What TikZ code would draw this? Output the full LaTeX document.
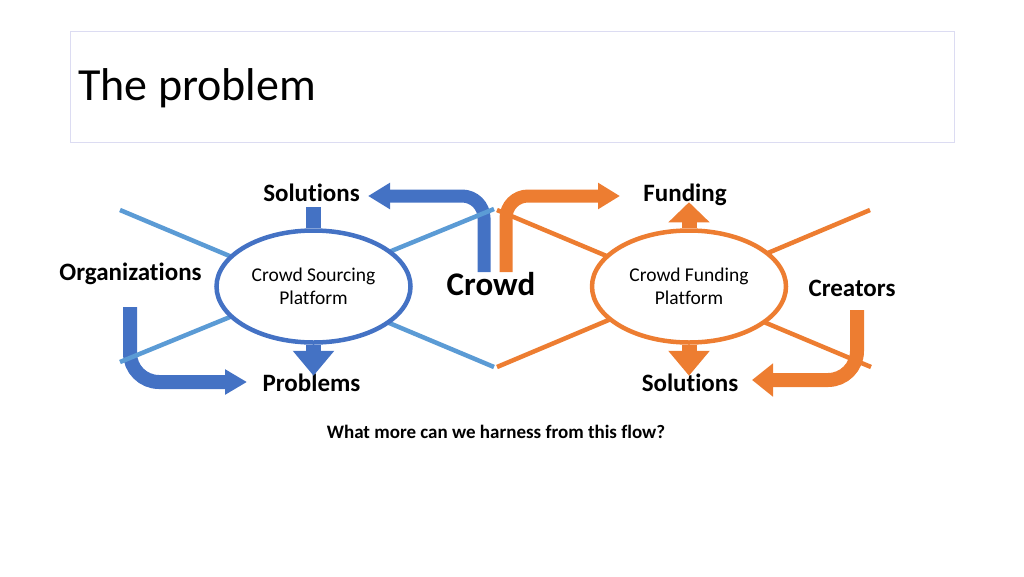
\documentclass[tikz,border=0pt]{standalone}
\usepackage{fontspec}
\setmainfont{Carlito}[Ligatures=NoCommon]
\usetikzlibrary{arrows.meta,shapes.geometric}
\definecolor{dblue}{HTML}{4472C4}
\definecolor{lblue}{HTML}{5B9BD5}
\definecolor{orng}{HTML}{ED7D31}
\definecolor{boxc}{HTML}{DCDCF2}
\begin{document}
\begin{tikzpicture}[x=1pt,y=-1pt,
  lab/.style={font=\fontsize{25}{30}\selectfont\bfseries, inner sep=0, anchor=base},
  plat/.style={ellipse, line width=4.5pt, fill=white, minimum width=194pt, minimum height=112pt, inner sep=0, align=center, font=\fontsize{19.5}{22.5}\selectfont},
  spoke/.style={line width=4.5pt},
  bendarrow/.style={line width=13pt, rounded corners=22pt, -{Triangle[length=22pt,width=25pt]}},
  bigbend/.style={line width=14pt, rounded corners=29pt},
  blockarrow/.style={line width=15pt},
]
\useasboundingbox (0,0) rectangle (1024,576);
% title
\node[draw=boxc, line width=1pt, minimum width=884pt, minimum height=111pt, anchor=north west, inner sep=0] (tbox) at (70,31) {};
\node[anchor=base west, inner sep=0, font=\fontsize{46}{55}\selectfont] (title) at (78,100) {The problem};

% coordinates
\coordinate (b1) at (120,210); \coordinate (b2) at (494,367);
\coordinate (b3) at (120,362); \coordinate (b4) at (494,209);
\coordinate (o1) at (497,210); \coordinate (o2) at (871,367);
\coordinate (o3) at (497,367); \coordinate (o4) at (870,210);
\coordinate (crb) at (484,272); \coordinate (cro) at (506,272);
\coordinate (orgs) at (130,307); \coordinate (cres) at (857,310);

% labels
\node[lab] (sol1) at (311.5,201.5) {Solutions};
\node[lab] (org) at (130.5,280) {Organizations};
\node[lab] (prob) at (311.5,391.5) {Problems};
\node[lab, font=\fontsize{33}{40}\selectfont\bfseries] (crowd) at (491,295) {Crowd};
\node[lab] (fund) at (685,201.5) {Funding};
\node[lab] (cre) at (852,296) {Creators};
\node[lab] (sol2) at (690,391.5) {Solutions};
\node[anchor=base, inner sep=0, font=\fontsize{19}{23}\selectfont\bfseries] (q) at (496,438.5) {What more can we harness from this flow?};

% bent arrows
\draw[bendarrow, dblue] (crb) -- (484,196) -- (368,196);
\draw[bendarrow, orng] (cro) -- (506,196) -- (620,196);
\draw[bigbend, dblue, -{Triangle[length=22pt,width=24pt]}] (orgs) -- (130,382) -- (247,382);
\draw[bigbend, orng, -{Triangle[length=21pt,width=32pt]}] (cres) -- (857,380) -- (752,380);

% spokes
\draw[spoke, lblue] (b1) -- (b2);
\draw[spoke, lblue] (b3) -- (b4);
\draw[spoke, orng] (o1) -- (o2);
\draw[spoke, orng] (o3) -- (o4);

% platforms
\node[plat, draw=dblue] (csp) at (313.5,286.5) {Crowd Sourcing\\Platform};
\node[plat, draw=orng] (cfp) at (689,286.5) {Crowd Funding\\Platform};

% short arrows
\draw[blockarrow, dblue] (csp.north) -- ++(0,-21);
\draw[blockarrow, dblue, -{Triangle[length=25pt,width=40pt]}] (csp.south) -- ++(0,31);
\draw[blockarrow, orng, -{Triangle[length=20pt,width=40pt]}] (cfp.north) -- ++(0,-26);
\draw[blockarrow, orng, -{Triangle[length=25pt,width=40pt]}] (cfp.south) -- ++(0,31);
\end{tikzpicture}
\end{document}
